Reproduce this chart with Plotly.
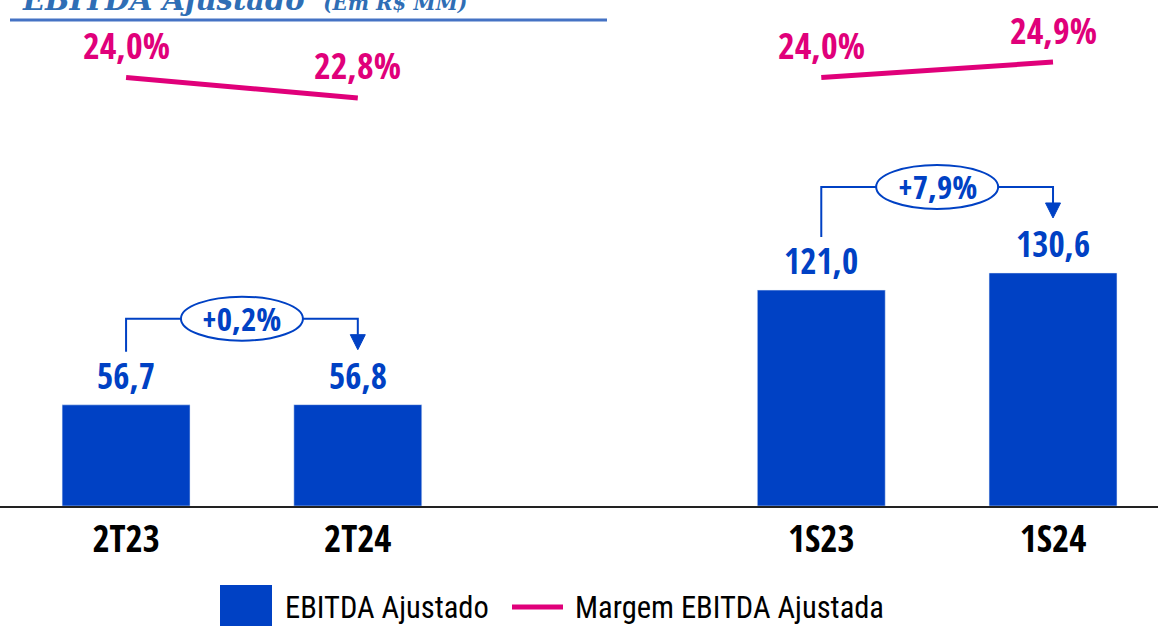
import plotly.graph_objects as go

# data
categories = ["2T23", "2T24", "1S23", "1S24"]
ebitda = [56.7, 56.8, 121.0, 130.6]
margem = [24.0, 22.8, 24.0, 24.9]
pares = [(0, 1), (2, 3)]
variacao = ["+0,2%", "+7,9%"]
nome_barra = "EBITDA Ajustado"
nome_linha = "Margem EBITDA Ajustada"

# style
AZUL = "#0041C4"
ROSA = "#E0007A"
TITULO = "#2F6EB5"
FONTE_B = "Open Sans Condensed, Roboto Condensed, sans-serif"
FONTE = "Roboto Condensed, sans-serif"
W, H = 1158, 628
MB = 122
PLOT_H = H - MB
X_RANGE = [-0.544, 4.453]
Y_RANGE = [0, 283.6]
Y2_RANGE = [-1.06, 28.53]
ppx = W / (X_RANGE[1] - X_RANGE[0])
ppu = PLOT_H / (Y_RANGE[1] - Y_RANGE[0])

# gap between the quarter pair and the semester pair
x_pos = [0, 1, 3, 4]
x_line, y_line = [], []
for k, (x, m) in enumerate(zip(x_pos, margem)):
    if k > 0 and x - x_pos[k - 1] > 1:
        x_line.append(x - 1)
        y_line.append(None)
    x_line.append(x)
    y_line.append(m)

fig = go.Figure()
fig.add_trace(go.Bar(x=x_pos, y=ebitda, name=nome_barra, marker_color=AZUL,
                     width=0.552, showlegend=False))
fig.add_trace(go.Scatter(x=x_line, y=y_line, name=nome_linha, mode="lines", yaxis="y2",
                         line=dict(color=ROSA, width=5), connectgaps=False,
                         showlegend=False))

# value labels
for x, v in zip(x_pos, ebitda):
    fig.add_annotation(x=x, y=v, text=f"<b>{v:.1f}</b>".replace(".", ","), showarrow=False,
                       yanchor="bottom", yshift=4, font=dict(family=FONTE_B, size=35, color=AZUL))
for x, m in zip(x_pos, margem):
    fig.add_annotation(x=x, y=m, yref="y2", text=f"<b>{m:.1f}%</b>".replace(".", ","),
                       showarrow=False, yanchor="middle", yshift=32,
                       font=dict(family=FONTE_B, size=36, color=ROSA))

# variation brackets
for (i, j), txt in zip(pares, variacao):
    xa, xb = x_pos[i], x_pos[j]
    xm = (xa + xb) / 2
    y0 = ebitda[i] + 53 / ppu
    yh = max(ebitda[i], ebitda[j]) + 86 / ppu
    ytip = ebitda[j] + 55 / ppu
    hw, hh = 61 / ppx, 22 / ppu
    ah, aw = 15 / ppu, 7.5 / ppx
    ln = dict(color=AZUL, width=2)
    fig.add_shape(type="path", path=f"M {xa} {y0} L {xa} {yh} L {xm - hw} {yh}", line=ln)
    fig.add_shape(type="path", path=f"M {xm + hw} {yh} L {xb} {yh} L {xb} {ytip + ah}", line=ln)
    fig.add_shape(type="path",
                  path=f"M {xb - aw} {ytip + ah} L {xb + aw} {ytip + ah} L {xb} {ytip} Z",
                  line=dict(color=AZUL, width=1), fillcolor=AZUL)
    fig.add_shape(type="circle", x0=xm - hw, x1=xm + hw, y0=yh - hh, y1=yh + hh,
                  line=ln, fillcolor="white")
    fig.add_annotation(x=xm, y=yh, text=f"<b>{txt}</b>", showarrow=False, yanchor="middle",
                       font=dict(family=FONTE_B, size=33, color=AZUL))

# title (cut at the top like the source slide)
fig.add_annotation(xref="paper", yref="paper", x=20 / W, y=(PLOT_H - 19) / PLOT_H,
                   xanchor="left", yanchor="bottom", showarrow=False,
                   text="<b><i>EBITDA Ajustado</i></b>  <b><i><span style='font-size:20px'>(Em R$ MM)</span></i></b>",
                   font=dict(family="DejaVu Serif", size=29, color=TITULO))
fig.add_shape(type="line", xref="paper", yref="paper", x0=10 / W, x1=607 / W,
              y0=(PLOT_H - 20) / PLOT_H, y1=(PLOT_H - 20) / PLOT_H,
              line=dict(color="#4472C4", width=3))


# legend drawn by hand so the swatches keep the slide's size
def py(p):
    return (PLOT_H - p) / PLOT_H


fig.add_shape(type="rect", xref="paper", yref="paper", x0=220 / W, x1=272 / W,
              y0=py(626), y1=py(585), fillcolor=AZUL, line_width=0)
fig.add_annotation(xref="paper", yref="paper", x=283 / W, y=py(607), xanchor="left",
                   yanchor="middle", text=nome_barra, showarrow=False,
                   font=dict(family=FONTE, size=30.5, color="black"))
fig.add_shape(type="line", xref="paper", yref="paper", x0=512 / W, x1=563 / W,
              y0=py(607), y1=py(607), line=dict(color=ROSA, width=5))
fig.add_annotation(xref="paper", yref="paper", x=573 / W, y=py(607), xanchor="left",
                   yanchor="middle", text=nome_linha, showarrow=False,
                   font=dict(family=FONTE, size=30.5, color="black"))

fig.update_layout(
    width=W, height=H,
    margin=dict(l=0, r=0, t=0, b=MB),
    plot_bgcolor="white", paper_bgcolor="white",
    showlegend=False,
    xaxis=dict(range=X_RANGE, tickvals=x_pos, ticktext=[f"<b>{c}</b>" for c in categories],
               tickfont=dict(family=FONTE_B, size=37, color="black"), showgrid=False,
               zeroline=False, showline=True, linecolor="#222222", linewidth=2,
               ticks="", ticklabelstandoff=0),
    yaxis=dict(range=Y_RANGE, visible=False, showgrid=False),
    yaxis2=dict(range=Y2_RANGE, overlaying="y", visible=False, showgrid=False),
)

fig.write_html("out.html", config={"displayModeBar": False},
               post_script="document.body.style.margin='0';")
